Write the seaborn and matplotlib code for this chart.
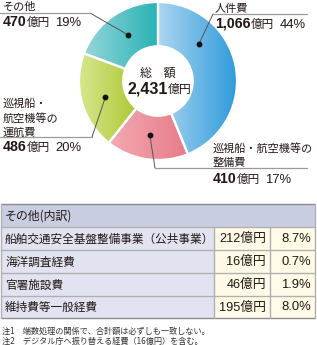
import numpy as np
import matplotlib
matplotlib.use("Agg")
import matplotlib.pyplot as plt
import seaborn as sns
from matplotlib.colors import LinearSegmentedColormap
from matplotlib.patches import Rectangle

# ---------------- data ----------------
categories = ["人件費", "巡視船・航空機等の整備費", "巡視船・航空機等の運航費", "その他"]
amounts = [1066, 410, 486, 470]          # 億円
shares = [44, 17, 20, 19]                # %
total_label = "2,431"
grad_left = ["#acd6f1", "#f3aab2", "#d7e78f", "#95d6d9"]
grad_right = ["#2e9bdb", "#e67b89", "#adc834", "#27b2b5"]

other_items = ["船舶交通安全基盤整備事業（公共事業）", "海洋調査経費", "官署施設費", "維持費等一般経費"]
other_amounts = [212, 16, 46, 195]
other_shares = ["8.7%", "0.7%", "1.9%", "8.0%"]
notes = ["注1　端数処理の関係で、合計額は必ずしも一致しない。",
         "注2　デジタル庁へ振り替える経費（16億円）を含む。"]

# ---------------- style ----------------
sns.set_theme(style="white")
JP = ["Noto Sans CJK JP", "DejaVu Sans"]
MIX = ["Liberation Sans", "Noto Sans CJK JP", "DejaVu Sans"]
plt.rcParams["font.family"] = JP

W, H = 317, 345
fig = plt.figure(figsize=(W / 100, H / 100), dpi=100)
fig.patch.set_facecolor("white")

# donut axes
cx, cy, R = 158, 81, 79
rin = 0.44
ax = fig.add_axes([(cx - R) / W, 1 - (cy + R) / H, 2 * R / W, 2 * R / H], zorder=1)
wedges, _ = ax.pie(amounts, startangle=90, counterclock=False, radius=1,
                   wedgeprops=dict(width=1 - rin, edgecolor="white", linewidth=1.6))
for w, cl, cr in zip(wedges, grad_left, grad_right):
    angs = np.radians(np.linspace(w.theta1, w.theta2, 200))
    xs = np.concatenate([np.cos(angs), rin * np.cos(angs)])
    cmap = LinearSegmentedColormap.from_list("g", [cl, cr])
    grad = np.linspace(0, 1, 256).reshape(1, -1)
    im = ax.imshow(grad, extent=[xs.min(), xs.max(), -1, 1], cmap=cmap,
                   aspect="auto", zorder=1, interpolation="bilinear")
    im.set_clip_path(w)
    w.set_facecolor("none")
    w.set_zorder(3)
ax.set_xlim(-1, 1)
ax.set_ylim(-1, 1)
ax.axis("off")

# overlay axes in pixel coordinates
ov = fig.add_axes([0, 0, 1, 1], zorder=2)
ov.set_xlim(0, W)
ov.set_ylim(H, 0)
ov.axis("off")
ov.patch.set_alpha(0)
fig.canvas.draw()
renderer = fig.canvas.get_renderer()

TXT = "#231815"
LBL = 8.0


def rich(x, y, pieces):
    for txt, size, weight, fam, gap in pieces:
        t = ov.text(x, y, txt, fontsize=size, fontweight=weight, family=fam,
                    va="baseline", ha="left", color=TXT)
        bb = t.get_window_extent(renderer)
        x += bb.width + gap


def amount_line(x, y, amt, pct):
    rich(x, y, [(f"{amt:,}", 10.2, "bold", MIX, 0.5),
                ("億円", 8.4, "normal", JP, 5),
                (f"{pct}%", 9.4, "normal", MIX, 0)])


# labels & leaders
rd = 55
label_cfg = [
    dict(ang=42, path=[(213, 14), (307, 14)], lines=[(215, 12, "人件費")], amt=(215, 28)),
    dict(ang=261.5, path=[(155, 168), (307, 168)],
         lines=[(213, 152, "巡視船・航空機等の"), (213, 166, "整備費")], amt=(213, 183)),
    dict(ang=197, path=[(92, 137), (0, 137)],
         lines=[(3, 107, "巡視船・"), (3, 122, "航空機等の"), (3, 136, "運航費")], amt=(3, 151)),
    dict(ang=123, path=[(90, 13), (0, 13)], lines=[(3, 10, "その他")], amt=(3, 26)),
]
for cfg, amt, pct in zip(label_cfg, amounts, shares):
    a = np.radians(cfg["ang"])
    dx, dy = cx + rd * np.cos(a), cy - rd * np.sin(a)
    p = cfg["path"]
    ov.plot([dx, p[0][0]], [dy, p[0][1]], color="#555555", lw=0.7, zorder=3)
    ov.plot([p[0][0], p[1][0]], [p[0][1], p[1][1]], color="#9a9a9a", lw=0.9, zorder=3)
    ov.plot([dx], [dy], "o", ms=3.2, color="#111111", zorder=4)
    for x, y, s in cfg["lines"]:
        ov.text(x, y, s, fontsize=LBL, va="baseline", ha="left", color=TXT, family=JP)
    amount_line(cfg["amt"][0], cfg["amt"][1], amt, pct)

# center text
ov.text(cx, 77, "総　額", fontsize=8.6, ha="center", va="baseline", color=TXT, family=JP)
rich(127, 93, [(total_label, 11.5, "bold", MIX, 0.5), ("億円", 8.6, "normal", JP, 0)])

# ---------------- table ----------------
tx0, tx1 = 1, 315
c1, c2 = 214, 270
rows_y = [204, 227, 250, 273, 296, 318]
hdr_col = "#c9cde2"
row_col = "#e1e4f0"
val_col = "#fffbe8"
bcol = "#b0b0b0"
ov.add_patch(Rectangle((tx0, rows_y[0]), tx1 - tx0, rows_y[1] - rows_y[0],
                       facecolor=hdr_col, edgecolor="none", zorder=1))
ov.text(5, (rows_y[0] + rows_y[1]) / 2 + 0.5, "その他(内訳)", fontsize=8.6, ha="left",
        va="center", color=TXT, family=JP)
for i, (item, amt, sh) in enumerate(zip(other_items, other_amounts, other_shares)):
    y0, y1 = rows_y[i + 1], rows_y[i + 2]
    ov.add_patch(Rectangle((tx0, y0), c1 - tx0, y1 - y0, facecolor=row_col,
                           edgecolor="none", zorder=1))
    ov.add_patch(Rectangle((c1, y0), tx1 - c1, y1 - y0, facecolor=val_col,
                           edgecolor="none", zorder=1))
    ym = (y0 + y1) / 2 + 0.5
    ov.text(5, ym, item, fontsize=8.4, ha="left", va="center", color=TXT, family=JP)
    ov.text(c2 - 4, ym, f"{amt}億円", fontsize=9.2, ha="right", va="center",
            color=TXT, family=MIX)
    ov.text(tx1 - 4, ym, sh, fontsize=9.4, ha="right", va="center", color=TXT, family=MIX)
# borders
for j, y in enumerate(rows_y):
    ov.plot([tx0, tx1], [y, y], color="#8c8c8c" if j in (0, len(rows_y) - 1) else bcol,
            lw=1.0, zorder=2)
ov.plot([tx0, tx0], [rows_y[0], rows_y[-1]], color=bcol, lw=1.0, zorder=2)
ov.plot([tx1, tx1], [rows_y[0], rows_y[-1]], color=bcol, lw=1.0, zorder=2)
for x in (c1, c2):
    ov.plot([x, x], [rows_y[1], rows_y[-1]], color=bcol, lw=1.0, zorder=2)

# notes
for k, n in enumerate(notes):
    ov.text(2, 334 + k * 10, n, fontsize=5.9, ha="left", va="baseline",
            color="#333333", family=JP)

fig.savefig("out.png", dpi=100)
